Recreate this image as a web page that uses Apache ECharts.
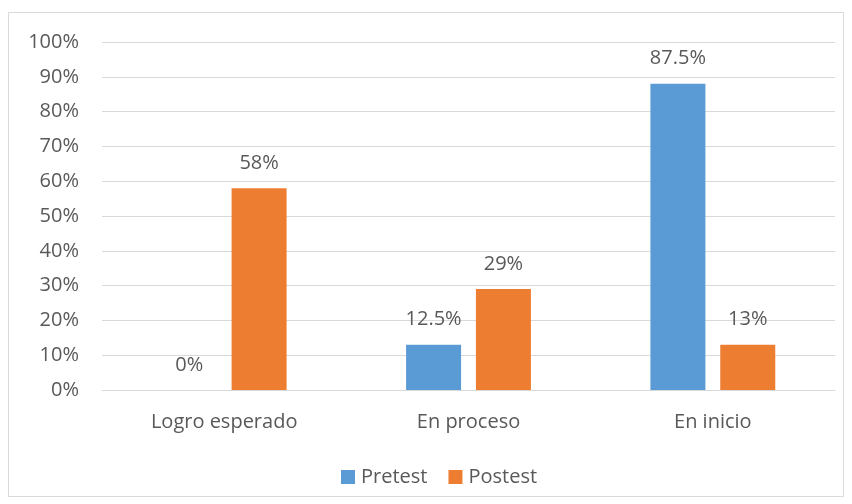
<!DOCTYPE html>
<html>
<head>
<meta charset="utf-8">
<script src="https://cdn.jsdelivr.net/npm/echarts@6/dist/echarts.min.js"></script>
<style>
  html, body { margin: 0; padding: 0; background: #fff; }
  #chart { width: 852px; height: 504px; }
</style>
</head>
<body>
<div id="chart"></div>
<script>
// 資料
const categories = ['Logro esperado', 'En proceso', 'En inicio'];
const pretestValues = [0, 13, 88];
const pretestLabels = ['0%', '12.5%', '87.5%'];
const postestValues = [58, 29, 13];
const postestLabels = ['58%', '29%', '13%'];
const yTicks = [0, 10, 20, 30, 40, 50, 60, 70, 80, 90, 100];

const chart = echarts.init(document.getElementById('chart'), null, { renderer: 'canvas' });

const font = 'Open Sans, Liberation Sans, sans-serif';
const textColor = '#595959';
const fs = 20;

const option = {
  animation: false,
  graphic: [
    {
      type: 'rect',
      shape: { x: 8.5, y: 12.5, width: 835, height: 484 },
      style: { fill: 'none', stroke: '#d9d9d9', lineWidth: 1 },
      silent: true,
    },
  ],
  grid: { left: 102, right: 17, top: 42, bottom: 114 },
  legend: {
    top: 462,
    left: 336,
    itemWidth: 14,
    itemHeight: 14,
    itemGap: 21,
    icon: 'rect',
    textStyle: { fontFamily: font, fontSize: fs, color: textColor, padding: [0, 0, 0, 1] },
    data: ['Pretest', 'Postest'],
  },
  xAxis: {
    type: 'category',
    data: categories,
    axisLine: { show: true, lineStyle: { color: '#d9d9d9' } },
    axisTick: { show: false },
    axisLabel: { fontFamily: font, fontSize: fs, color: textColor, margin: 22 },
  },
  yAxis: {
    type: 'value',
    min: yTicks[0],
    max: yTicks[yTicks.length - 1],
    interval: 10,
    axisLine: { show: false },
    axisTick: { show: false },
    axisLabel: {
      fontFamily: font,
      fontSize: fs,
      color: textColor,
      margin: 23,
      formatter: (v) => v + '%',
    },
    splitLine: { lineStyle: { color: '#d9d9d9', width: 1 } },
  },
  series: [
    {
      name: 'Pretest',
      type: 'bar',
      data: pretestValues,
      barWidth: 55,
      barGap: '27%',
      itemStyle: { color: '#5b9bd5' },
      label: {
        show: true,
        position: 'top',
        distance: 15,
        fontFamily: font,
        fontSize: fs,
        color: textColor,
        formatter: (p) => pretestLabels[p.dataIndex],
      },
    },
    {
      name: 'Postest',
      type: 'bar',
      data: postestValues,
      barWidth: 55,
      itemStyle: { color: '#ed7d31' },
      label: {
        show: true,
        position: 'top',
        distance: 15,
        fontFamily: font,
        fontSize: fs,
        color: textColor,
        formatter: (p) => postestLabels[p.dataIndex],
      },
    },
  ],
};

chart.setOption(option);
</script>
</body>
</html>
